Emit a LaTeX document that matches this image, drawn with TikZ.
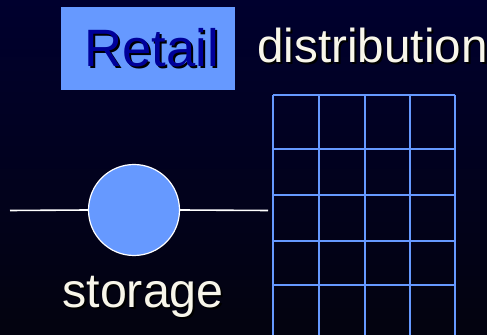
\documentclass[tikz,border=0pt]{standalone}
\usepackage{fontspec}
\setmainfont{Liberation Sans}
\definecolor{gridblue}{HTML}{6699FF}
\definecolor{cream}{HTML}{F8F6EA}
\definecolor{retailtext}{HTML}{000099}
\definecolor{bgtop}{HTML}{00002E}
\definecolor{bgbottom}{HTML}{03030F}
\newcommand{\shadowed}[2]{\rlap{\kern1pt\raisebox{-1pt}{\textcolor{black}{#2}}}\textcolor{#1}{#2}}
\tikzset{
  label text/.style={anchor=base west, inner sep=0pt},
  grid line/.style={gridblue, line width=1pt},
}
\begin{document}
\begin{tikzpicture}[x=0.5pt, y=-0.5pt]
        % Draw the background
        \useasboundingbox (0,0) rectangle (487,335);
        \fill[top color=bgtop, bottom color=bgbottom] (0,0) rectangle (487,335);

        % Draw the title
        \fill[gridblue] (61,7) rectangle (235,90.5);
        \node[label text, font=\fontsize{26.3pt}{30pt}\selectfont] (retail) at (84,66.5) {\shadowed{retailtext}{Retail}};
        \node[label text, font=\fontsize{23.8pt}{28pt}\selectfont] (distribution) at (257,63) {\shadowed{cream}{distribution}};

        % Draw the storage point
        \coordinate (left end) at (10,210.5);
        \coordinate (right end) at (268,210.5);
        \node[circle, fill=gridblue, draw=white, line width=0.6pt, minimum size=45.5pt, inner sep=0pt] (storage) at (134,210) {};
        \draw[white, line width=0.8pt] (left end) -- (storage.west);
        \draw[white, line width=0.8pt] (storage.east) -- (right end);
        \node[label text, font=\fontsize{24.2pt}{28pt}\selectfont] (storage label) at (62,308) {\shadowed{cream}{storage}};

        % Draw the grid
        \foreach \x in {273,319,365,410,455}
            \draw[grid line] (\x,95) -- (\x,336);
        \foreach \y in {95,149,195,241,285}
            \draw[grid line] (273,\y) -- (455,\y);
\end{tikzpicture}
\end{document}
